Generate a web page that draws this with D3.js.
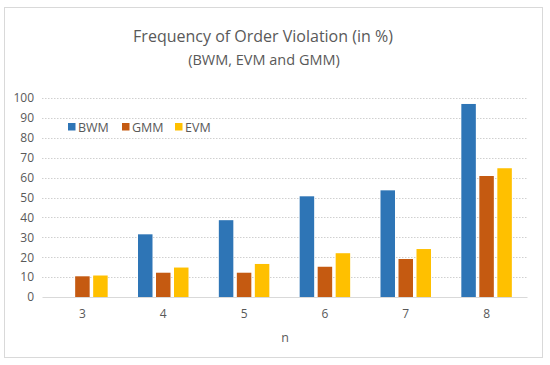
<!DOCTYPE html>
<html>
<head>
<meta charset="utf-8">
<script src="https://cdn.jsdelivr.net/npm/d3@7"></script>
<style>
  body { margin: 0; background: #fff; }
  svg text { font-family: "Open Sans", "Liberation Sans", sans-serif; fill: #595959; }
</style>
</head>
<body>
<div id="frame"></div>
<script>
'use strict'

var categories = ["3", "4", "5", "6", "7", "8"]
var seriesNames = ["BWM", "GMM", "EVM"]
var bwm = [0, 31.5, 38.6, 50.6, 53.6, 97]
var gmm = [10.4, 12.2, 12.2, 15.2, 19.1, 60.8]
var evm = [10.8, 14.8, 16.6, 22, 24.1, 64.7]
var yTicks = [0, 10, 20, 30, 40, 50, 60, 70, 80, 90, 100]
var colors = ["#2E75B6", "#C55A11", "#FFC000"]

var W = 550, H = 365
var plot = { left: 42, right: 527, top: 98, bottom: 297 }

var svg = d3.select("#frame").append("svg")
  .attr("width", W)
  .attr("height", H)

// outer chart border
svg.append("rect")
  .attr("x", 4.5).attr("y", 7.5)
  .attr("width", 538).attr("height", 350)
  .style("fill", "#fff")
  .style("stroke", "#d9d9d9")

svg.append("text")
  .attr("x", 263).attr("y", 42)
  .attr("text-anchor", "middle")
  .style("font-size", "16px")
  .text("Frequency of Order Violation (in %)")

svg.append("text")
  .attr("x", 264).attr("y", 65)
  .attr("text-anchor", "middle")
  .style("font-size", "14.5px")
  .text("(BWM, EVM and GMM)")

var x = d3.scaleBand().domain(categories).range([plot.left, plot.right])
var y = d3.scaleLinear().domain([0, 100]).range([plot.bottom, plot.top])
var barW = 14.5, gap = 3.5
var xs = d3.scaleBand().domain(seriesNames)
  .range([x.bandwidth() / 2 - (barW * 1.5 + gap), x.bandwidth() / 2 + (barW * 1.5 + gap)])
  .paddingInner(gap / (barW + gap))

// gridlines
svg.append("g")
  .selectAll("line")
  .data(yTicks.filter(d => d > 0))
  .enter().append("line")
  .attr("x1", plot.left).attr("x2", plot.right)
  .attr("y1", d => Math.round(y(d)) + 0.5)
  .attr("y2", d => Math.round(y(d)) + 0.5)
  .style("stroke", "#d0d0d0")
  .style("stroke-dasharray", "1.5,1.5")

var yAxis = svg.append("g")
  .attr("transform", "translate(" + (plot.left - 6) + ",0)")
  .call(d3.axisLeft(y).tickValues(yTicks).tickSize(0).tickPadding(2))
yAxis.select(".domain").remove()
yAxis.selectAll("text").style("font-size", "12px").style("fill", "#595959")

var data = categories.map((c, i) => ({ cat: c, vals: [bwm[i], gmm[i], evm[i]] }))

var groups = svg.append("g")
  .selectAll("g")
  .data(data)
  .enter().append("g")
  .attr("transform", d => "translate(" + x(d.cat) + ",0)")

groups.selectAll("rect")
  .data(d => d.vals.map((v, j) => ({ name: seriesNames[j], v: v, c: colors[j] })))
  .enter().append("rect")
  .attr("x", d => xs(d.name))
  .attr("width", xs.bandwidth())
  .attr("y", d => y(d.v))
  .attr("height", d => y(0) - y(d.v))
  .style("fill", d => d.c)

var xAxis = svg.append("g")
  .attr("transform", "translate(0," + plot.bottom + ")")
  .call(d3.axisBottom(x).tickSize(0).tickPadding(12))
xAxis.select(".domain").style("stroke", "#d9d9d9")
xAxis.selectAll("text").style("font-size", "12px").style("fill", "#595959")

svg.append("text")
  .attr("x", 285).attr("y", 342)
  .attr("text-anchor", "middle")
  .style("font-size", "12.5px")
  .text("n")

// legend
var legendX = [68, 122, 175]
var legend = svg.append("g")
  .selectAll("g")
  .data(seriesNames)
  .enter().append("g")
  .attr("transform", (d, i) => "translate(" + legendX[i] + ",127)")
legend.append("rect")
  .attr("x", 0).attr("y", -4)
  .attr("width", 7.5).attr("height", 7.5)
  .style("fill", (d, i) => colors[i])
legend.append("text")
  .attr("x", 10).attr("y", 4.5)
  .style("font-size", "12.5px")
  .text(d => d)
</script>
</body>
</html>
